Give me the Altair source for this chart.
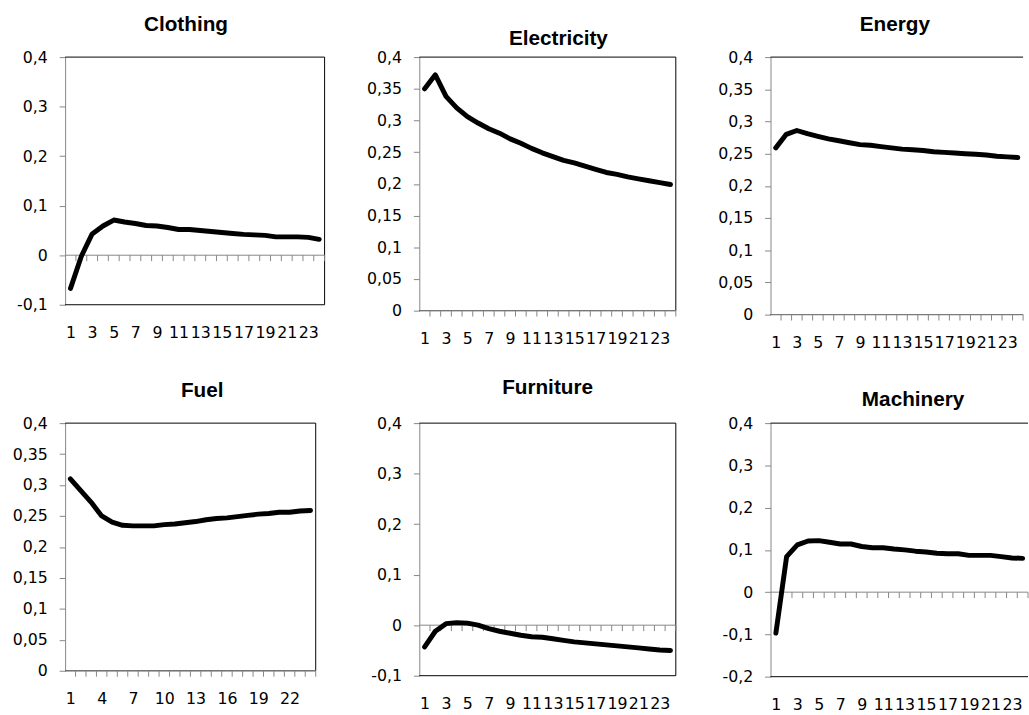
import altair as alt
import pandas as pd

# ---------------- data ----------------
periods = list(range(1, 25))

clothing = [-0.067, -0.002, 0.043, 0.059, 0.071, 0.067, 0.064, 0.060, 0.059, 0.056, 0.052, 0.052,
            0.050, 0.048, 0.046, 0.044, 0.042, 0.041, 0.040, 0.037, 0.037, 0.037, 0.036, 0.032]
electricity = [0.350, 0.372, 0.338, 0.320, 0.306, 0.296, 0.287, 0.280, 0.271, 0.264, 0.256, 0.249,
               0.243, 0.237, 0.233, 0.228, 0.223, 0.218, 0.215, 0.211, 0.208, 0.205, 0.202, 0.199]
energy = [0.259, 0.280, 0.286, 0.281, 0.277, 0.273, 0.270, 0.267, 0.264, 0.263, 0.261, 0.259,
          0.257, 0.256, 0.255, 0.253, 0.252, 0.251, 0.250, 0.249, 0.248, 0.246, 0.245, 0.244]
fuel = [0.310, 0.291, 0.272, 0.250, 0.240, 0.235, 0.234, 0.234, 0.234, 0.236, 0.237, 0.239,
        0.241, 0.244, 0.246, 0.247, 0.249, 0.251, 0.253, 0.254, 0.256, 0.256, 0.258, 0.259]
furniture = [-0.043, -0.012, 0.003, 0.005, 0.004, 0.000, -0.007, -0.012, -0.016, -0.020, -0.023, -0.024,
             -0.027, -0.030, -0.033, -0.035, -0.037, -0.039, -0.041, -0.043, -0.045, -0.047, -0.049, -0.050]
machinery = [-0.097, 0.084, 0.112, 0.121, 0.122, 0.118, 0.114, 0.114, 0.108, 0.105, 0.105, 0.102,
             0.100, 0.097, 0.095, 0.092, 0.091, 0.091, 0.087, 0.087, 0.087, 0.084, 0.081, 0.080]

yticks_a = [-0.1, 0, 0.1, 0.2, 0.3, 0.4]
yticks_b = [0, 0.05, 0.1, 0.15, 0.2, 0.25, 0.3, 0.35, 0.4]
yticks_c = [-0.2, -0.1, 0, 0.1, 0.2, 0.3, 0.4]
xlabels_odd = [1, 3, 5, 7, 9, 11, 13, 15, 17, 19, 21, 23]
xlabels_fuel = [1, 4, 7, 10, 13, 16, 19, 22]
category_bounds = [i + 0.5 for i in range(1, 25)]

GRAY = "#868686"
LABEL_FONT = "DejaVu Sans"
TITLE_FONT = "Liberation Sans"

panels = [
    dict(name="Clothing", vals=clothing, ymin=-0.1, ymax=0.4, yt=yticks_a, xl=xlabels_odd,
         w=263, h=251, toff=-3, tdx=-9, right=True),
    dict(name="Electricity", vals=electricity, ymin=0, ymax=0.4, yt=yticks_b, xl=xlabels_odd,
         w=260, h=257, toff=-16.5, tdx=11, right=True),
    dict(name="Energy", vals=energy, ymin=0, ymax=0.4, yt=yticks_b, xl=xlabels_odd,
         w=256, h=261, toff=-2.5, tdx=-2, right=False),
    dict(name="Fuel", vals=fuel, ymin=0, ymax=0.4, yt=yticks_b, xl=xlabels_fuel,
         w=254, h=251, toff=-3, tdx=12, right=True),
    dict(name="Furniture", vals=furniture, ymin=-0.1, ymax=0.4, yt=yticks_a, xl=xlabels_odd,
         w=260, h=256, toff=0.5, tdx=0, right=True),
    dict(name="Machinery", vals=machinery, ymin=-0.2, ymax=0.4, yt=yticks_c, xl=xlabels_odd,
         w=261, h=257, toff=-11.5, tdx=14, right=False),
]

label_expr = "replace(replace(format(datum.value, '.2~f'), '.', ','), '\u2212', '-')"


def make_panel(p):
    xs = alt.Scale(domain=[0.5, 24.5], nice=False, zero=False)
    ys = alt.Scale(domain=[p["ymin"], p["ymax"]], nice=False, zero=False)
    xaxis = alt.Axis(values=p["xl"], title=None, domain=False, ticks=False, tickSize=0, grid=False,
                     labelPadding=20, labelFont=LABEL_FONT, labelFontSize=16, labelColor="black",
                     labelOverlap=False, labelFlush=False, labelBound=False)
    yaxis = alt.Axis(values=p["yt"], title=None, grid=False, domainColor=GRAY, domainWidth=1,
                     tickColor=GRAY, tickSize=6, labelPadding=12, labelFont=LABEL_FONT,
                     labelFontSize=16, labelColor="black", labelExpr=label_expr,
                     labelOverlap=False, labelFlush=False, labelBound=False)

    hb = pd.DataFrame({"t": [0.5, 0.5], "t2": [24.5, 24.5], "v": [p["ymax"], p["ymin"]]})
    borders = alt.Chart(hb).mark_rule(color="black", strokeWidth=1).encode(
        x=alt.X("t:Q", scale=xs, axis=xaxis), x2="t2:Q",
        y=alt.Y("v:Q", scale=ys, axis=yaxis))
    layers = [borders]
    if p["right"]:
        vb = pd.DataFrame({"t": [24.5], "v": [p["ymin"]], "v2": [p["ymax"]]})
        layers.append(alt.Chart(vb).mark_rule(color="black", strokeWidth=1).encode(
            x=alt.X("t:Q", scale=xs, axis=xaxis),
            y=alt.Y("v:Q", scale=ys, axis=yaxis), y2="v2:Q"))
    zl = pd.DataFrame({"t": [0.5], "t2": [24.5], "v": [0]})
    layers.append(alt.Chart(zl).mark_rule(color=GRAY, strokeWidth=1).encode(
        x=alt.X("t:Q", scale=xs, axis=xaxis), x2="t2:Q",
        y=alt.Y("v:Q", scale=ys, axis=yaxis)))
    tk = pd.DataFrame({"t": category_bounds, "v": [0] * len(category_bounds)})
    layers.append(alt.Chart(tk).mark_rule(color=GRAY, strokeWidth=1, y2Offset=6).encode(
        x=alt.X("t:Q", scale=xs, axis=xaxis),
        y=alt.Y("v:Q", scale=ys, axis=yaxis), y2="v:Q"))
    df = pd.DataFrame({"t": periods, "v": p["vals"]})
    layers.append(alt.Chart(df).mark_line(color="black", strokeWidth=5, strokeCap="round",
                                          strokeJoin="round").encode(
        x=alt.X("t:Q", scale=xs, axis=xaxis),
        y=alt.Y("v:Q", scale=ys, axis=yaxis)))
    return alt.layer(*layers).properties(
        width=p["w"], height=p["h"],
        title=alt.TitleParams(text=p["name"], font=TITLE_FONT, fontSize=21, fontWeight="bold",
                              color="black", anchor="middle", frame="group", baseline="alphabetic",
                              offset=p["toff"], dx=p["tdx"]))


charts = [make_panel(p) for p in panels]

chart = alt.concat(*charts, columns=3, spacing={"row": 110, "column": 96},
                   bounds="flush", align="none").properties(
    padding={"left": 11, "top": 9, "right": 0, "bottom": 0},
    background="white",
).configure_view(stroke="transparent")

chart.save("out.html", embed_options={"renderer": "svg", "actions": False})
